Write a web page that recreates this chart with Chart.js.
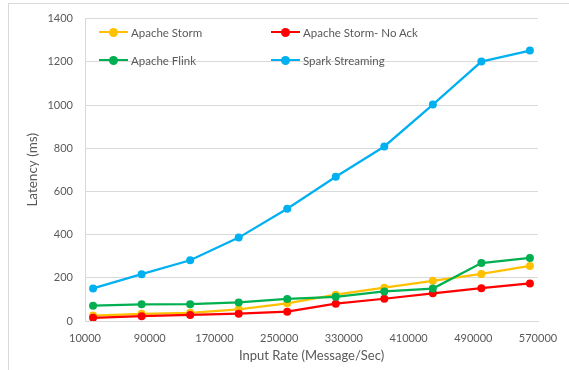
<!DOCTYPE html>
<html>
<head>
<meta charset="utf-8">
<script src="https://cdn.jsdelivr.net/npm/chart.js@4/dist/chart.umd.min.js"></script>
<style>
    body { margin: 0; background: #fff; font-family: Lato, sans-serif; }
    .wrap { position: relative; width: 569px; height: 370px; overflow: hidden; }
    .frame { position: absolute; left: 8px; top: 3px; right: -2px; bottom: -2px; border-top: 1px solid #d9d9d9; border-left: 1px solid #d9d9d9; }
    canvas { position: absolute; left: 0; top: 0; }
    .legend { position: absolute; font-size: 11.5px; color: #595959; }
    .legend .item { position: absolute; display: flex; align-items: center; white-space: nowrap; }
    .legend .swatch { position: relative; width: 29px; height: 2px; margin-right: 3px; }
    .legend .swatch::after { content: ''; position: absolute; left: 10px; top: -3.5px; width: 9px; height: 9px; border-radius: 50%; background: inherit; }
</style>
</head>
<body>
<div class="wrap">
    <div class="frame"></div>
    <canvas id="latencyChart" width="569" height="370"></canvas>
    <div class="legend" id="legend"></div>
</div>
<script>
// input rates (Message/Sec)
const inputRates = [20000, 80000, 140000, 200000, 260000, 320000, 380000, 440000, 500000, 560000];

// latency (ms) per system
const stormLatency = [25, 33, 38, 54, 82, 122, 154, 186, 218, 255];
const stormNoAckLatency = [15, 22, 28, 34, 43, 80, 103, 128, 152, 174];
const flinkLatency = [71, 77, 78, 86, 102, 112, 137, 150, 268, 292];
const sparkLatency = [151, 217, 281, 386, 520, 668, 808, 1002, 1201, 1252];

const seriesNames = ['Apache Storm', 'Apache Storm- No Ack', 'Apache Flink', 'Spark Streaming'];
const seriesColors = ['#FFC000', '#FF0000', '#00B050', '#00B0F0'];

// axis ranges
const xMin = 10000, xMax = 570000, xStep = 80000;
const yMin = 0, yMax = 1400, yStep = 200;

const toPoints = vals => vals.map((v, i) => ({ x: inputRates[i], y: v }));

const allSeries = [stormLatency, stormNoAckLatency, flinkLatency, sparkLatency];
const datasets = allSeries.map((vals, i) => ({
    label: seriesNames[i],
    data: toPoints(vals),
    borderColor: seriesColors[i],
    backgroundColor: seriesColors[i],
    borderWidth: 2.25,
    pointRadius: 4,
    pointBorderWidth: 0,
    pointBackgroundColor: seriesColors[i],
    tension: 0,
    order: allSeries.length - 1 - i
}));

const tickColor = '#595959';
const gridColor = '#d9d9d9';

new Chart(document.getElementById('latencyChart'), {
    type: 'line',
    data: { datasets },
    options: {
        responsive: false,
        animation: false,
        layout: { padding: { top: 18, right: 31, bottom: 0, left: 0 } },
        plugins: { legend: { display: false }, tooltip: { enabled: false } },
        scales: {
            x: {
                type: 'linear',
                min: xMin, max: xMax,
                grid: { display: false },
                border: { display: true, color: gridColor, width: 1 },
                ticks: {
                    stepSize: xStep,
                    color: tickColor,
                    font: { family: 'Lato', size: 11 },
                    padding: 3,
                    maxRotation: 0,
                    callback: v => String(v)
                },
                title: {
                    display: true,
                    text: 'Input Rate (Message/Sec)',
                    color: tickColor,
                    font: { family: 'Lato', size: 13 },
                    padding: { top: 0, bottom: 6 }
                },
                afterFit: s => { s.height = 49; }
            },
            y: {
                min: yMin, max: yMax,
                grid: { color: gridColor, drawTicks: false, lineWidth: 1 },
                border: { display: true, color: gridColor, width: 1 },
                ticks: {
                    stepSize: yStep,
                    color: tickColor,
                    font: { family: 'Lato', size: 11 },
                    padding: 12,
                    callback: v => String(v)
                },
                title: {
                    display: true,
                    text: 'Latency (ms)',
                    color: tickColor,
                    font: { family: 'Lato', size: 13.5 },
                    padding: { top: 25, bottom: 0 }
                },
                afterFit: s => { s.width = 85; }
            }
        }
    }
});

// legend, two columns inside the plot area
const legendEl = document.getElementById('legend');
const legendPos = [[99, 32], [271, 32], [99, 60], [271, 60]];
[0, 1, 2, 3].forEach(i => {
    const item = document.createElement('div');
    item.className = 'item';
    item.style.left = legendPos[i][0] + 'px';
    item.style.top = (legendPos[i][1] - 8) + 'px';
    item.style.height = '16px';
    item.innerHTML = '<span class="swatch" style="background:' + seriesColors[i] + '"></span><span>' + seriesNames[i] + '</span>';
    legendEl.appendChild(item);
});
</script>
</body>
</html>
